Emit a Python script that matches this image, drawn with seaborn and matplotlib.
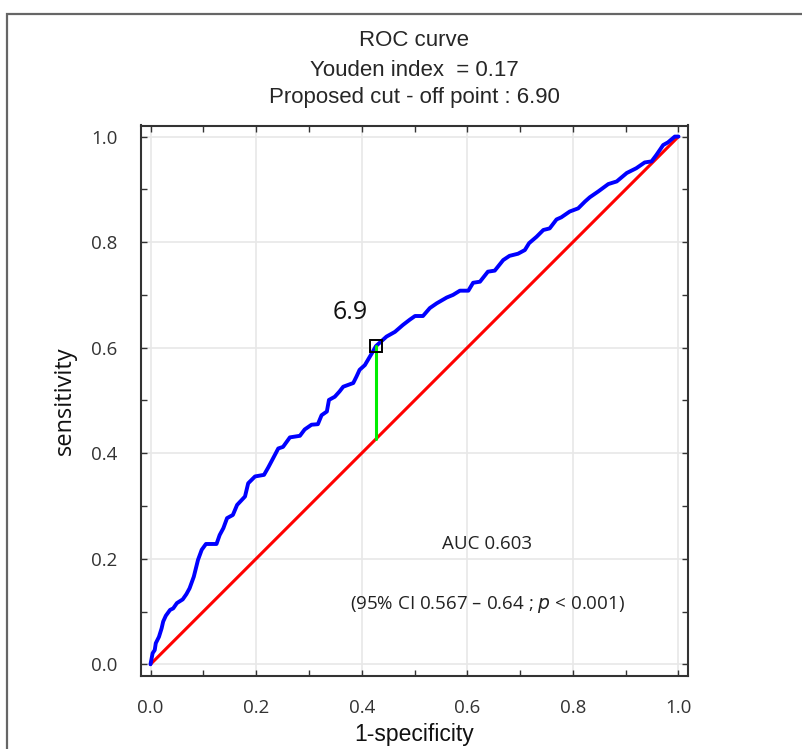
import matplotlib
matplotlib.use("Agg")
import matplotlib.pyplot as plt
import seaborn as sns
import numpy as np
from matplotlib.patches import Rectangle
from matplotlib.ticker import MultipleLocator

# ---- data ----
fpr = [0.000, 0.004, 0.008, 0.010, 0.016, 0.021, 0.024, 0.029, 0.037, 0.043,
       0.050, 0.061, 0.068, 0.074, 0.082, 0.090, 0.097, 0.105, 0.125, 0.131,
       0.138, 0.145, 0.156, 0.164, 0.179, 0.185, 0.198, 0.215, 0.223, 0.232,
       0.242, 0.251, 0.264, 0.283, 0.292, 0.305, 0.317, 0.324, 0.334, 0.338,
       0.349, 0.358, 0.365, 0.384, 0.390, 0.396, 0.406, 0.419, 0.427, 0.447,
       0.463, 0.478, 0.491, 0.501, 0.516, 0.529, 0.542, 0.561, 0.573, 0.586,
       0.602, 0.611, 0.624, 0.639, 0.652, 0.668, 0.680, 0.696, 0.709, 0.717,
       0.731, 0.744, 0.756, 0.769, 0.778, 0.794, 0.810, 0.823, 0.832, 0.848,
       0.867, 0.883, 0.902, 0.920, 0.936, 0.949, 0.958, 0.971, 0.980, 0.993,
       1.000]
tpr = [0.000, 0.021, 0.027, 0.040, 0.052, 0.068, 0.081, 0.092, 0.103, 0.106,
       0.116, 0.123, 0.133, 0.144, 0.166, 0.198, 0.217, 0.228, 0.228, 0.245,
       0.258, 0.277, 0.283, 0.302, 0.318, 0.343, 0.356, 0.359, 0.373, 0.390,
       0.409, 0.412, 0.430, 0.433, 0.445, 0.454, 0.455, 0.472, 0.479, 0.501,
       0.507, 0.517, 0.526, 0.533, 0.545, 0.558, 0.567, 0.589, 0.603, 0.621,
       0.630, 0.643, 0.653, 0.660, 0.660, 0.675, 0.684, 0.695, 0.700, 0.708,
       0.708, 0.723, 0.725, 0.744, 0.746, 0.766, 0.774, 0.778, 0.785, 0.798,
       0.810, 0.823, 0.826, 0.843, 0.847, 0.858, 0.864, 0.877, 0.885, 0.896,
       0.910, 0.915, 0.931, 0.940, 0.951, 0.953, 0.965, 0.984, 0.989, 1.000,
       1.000]
diag = [0.0, 1.0]
cut_fpr = 0.427
cut_tpr = 0.603
cut_label = "6.9"
title_lines = ["ROC curve", "Youden index  = 0.17", "Proposed cut - off point : 6.90"]
auc_text = "AUC 0.603"
ticks = [0.0, 0.2, 0.4, 0.6, 0.8, 1.0]
tick_labels = ["0.0", "0.2", "0.4", "0.6", "0.8", "1.0"]

sns.set_style("ticks")
plt.rcParams['font.family'] = ['Liberation Sans', 'DejaVu Sans']
OPEN = ['Open Sans', 'DejaVu Sans']

fig = plt.figure(figsize=(8.03, 7.49), dpi=100)
ax = fig.add_axes([141/803, 1-675.7/749, (688-141)/803, (675.7-125.5)/749])

# grid
for t in ticks:
    ax.axvline(t, color="#e8e8e8", lw=1.2, zorder=0)
    ax.axhline(t, color="#e8e8e8", lw=1.2, zorder=0)

sns.lineplot(x=diag, y=diag, ax=ax, color="#ff0000", lw=2.2, zorder=3)
sns.lineplot(x=fpr, y=tpr, ax=ax, color="#0000ff", lw=2.8, zorder=4,
             estimator=None, sort=False)
ax.plot([cut_fpr, cut_fpr], [cut_fpr, cut_tpr], color="#00ee00", lw=2.2, zorder=5)
ax.plot([cut_fpr], [cut_tpr], marker="s", ms=8, mfc="none", mec="black",
        mew=1.4, zorder=6)
ax.text(cut_fpr - 0.048, cut_tpr + 0.063, cut_label, fontsize=18,
        family=OPEN, color="#111111", ha="center", va="center")

ax.text(0.638, 0.228, auc_text, fontsize=13.5, family=OPEN,
        color="#222222", ha="center", va="center")
ax.text(0.638, 0.113, r"(95% CI 0.567 – 0.64 ; $\it{p}$ < 0.001)", fontsize=13.5,
        family=OPEN, color="#222222", ha="center", va="center")

ax.set_xlim(-0.018, 1.018)
ax.set_ylim(-0.0216, 1.021)
ax.set_xticks(ticks)
ax.set_yticks(ticks)
ax.set_xticklabels(tick_labels, family=OPEN, color="#333333")
ax.set_yticklabels(tick_labels, family=OPEN, color="#333333")
ax.xaxis.set_minor_locator(MultipleLocator(0.1))
ax.yaxis.set_minor_locator(MultipleLocator(0.1))
ax.tick_params(which="both", direction="in", top=True, right=True, length=4,
               width=1, color="#333333")
ax.tick_params(which="major", labelsize=13.5, pad=17)
for s in ax.spines.values():
    s.set_color("#333333")
    s.set_linewidth(1.5)

ax.set_xlabel("1-specificity", fontsize=16.5, labelpad=4, color="#111111")
ax.set_ylabel("sensitivity", fontsize=17, labelpad=10, color="#111111",
              family=OPEN)

fig.text(414/803, 1-41/749, title_lines[0], fontsize=16, ha="center", va="center")
fig.text(414/803, 1-71/749, title_lines[1], fontsize=16, ha="center", va="center")
fig.text(414/803, 1-97/749, title_lines[2], fontsize=16, ha="center", va="center")

fig.patches.append(Rectangle((7/803, -0.1), 1.2, 1 - 14/749 + 0.1,
                             transform=fig.transFigure, fill=False,
                             edgecolor="#666666", lw=1.6))

fig.savefig("out.png", dpi=100)
